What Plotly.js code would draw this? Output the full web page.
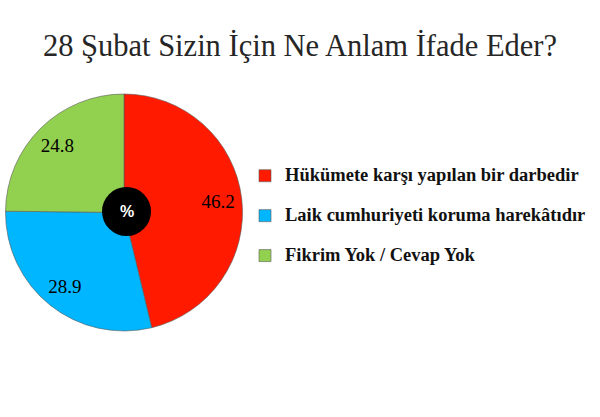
<!DOCTYPE html>
<html>
<head>
<meta charset="utf-8">
<script src="https://cdn.plot.ly/plotly-3.0.1.min.js"></script>
<style>
  html, body { margin: 0; padding: 0; background: #fff; }
  #chart { width: 600px; height: 417px; }
</style>
</head>
<body>
<div id="chart"></div>
<script>
// ─── data ───────────────────────────────────────────────
var answers = [
  'Hükümete karşı yapılan bir darbedir',
  'Laik cumhuriyeti koruma harekâtıdır',
  'Fikrim Yok / Cevap Yok'
];
var shares = [46.2, 28.9, 24.8];
var sliceColors = ['#ff1a00', '#00b7ff', '#92d050'];

// legend rows are spaced wide apart: layout uses the small legend font on two lines,
// while the visible text is drawn bigger through a span
var legendLabels = answers.map(function (a) {
  return '<span style="font-size:18.5px">' + a + '</span><br> ';
});
var pieDomain = { x: [4 / 600, 244 / 600], y: [1 - 331 / 417, 1 - 94 / 417] };

// the coloured pie itself
var pie = {
  type: 'pie',
  labels: legendLabels,
  values: shares,
  sort: false,
  direction: 'clockwise',
  rotation: 0,
  textinfo: 'none',
  marker: { colors: sliceColors, line: { color: 'rgba(90,90,90,0.6)', width: 1 } },
  domain: pieDomain,
  hoverinfo: 'label+value'
};

// same slices, transparent ring, only to push the value labels outwards
var valueLabels = {
  type: 'pie',
  labels: answers,
  values: shares,
  sort: false,
  direction: 'clockwise',
  rotation: 0,
  hole: 0.6,
  showlegend: false,
  textinfo: 'value',
  texttemplate: '%{value:.1f}',
  textposition: 'inside',
  insidetextorientation: 'horizontal',
  textfont: { family: 'Liberation Serif, serif', size: 19, color: '#000' },
  marker: { colors: ['rgba(0,0,0,0)', 'rgba(0,0,0,0)', 'rgba(0,0,0,0)'], line: { width: 0 } },
  domain: pieDomain,
  hoverinfo: 'skip'
};

var layout = {
  width: 600,
  height: 417,
  margin: { l: 0, r: 0, t: 0, b: 0 },
  paper_bgcolor: '#fff',
  title: {
    text: '28 Şubat Sizin İçin Ne Anlam İfade Eder?',
    font: { family: 'Liberation Serif, serif', size: 30.5, color: '#262626' },
    x: 0.5, xanchor: 'center', y: 1 - 45 / 417, yanchor: 'middle'
  },
  showlegend: true,
  legend: {
    x: 245 / 600, xanchor: 'left',
    y: 1 - 160 / 417, yanchor: 'top',
    valign: 'top',
    font: { family: 'Liberation Serif, serif', size: 14.2, color: '#111', weight: 'bold' },
    itemclick: false
  },
  shapes: [{
    type: 'circle', xref: 'paper', yref: 'paper', layer: 'above',
    x0: 102 / 600, x1: 151 / 600, y0: 1 - 236 / 417, y1: 1 - 187 / 417,
    fillcolor: '#000', line: { color: '#000', width: 0 }
  }],
  annotations: [{
    text: '%', xref: 'paper', yref: 'paper', showarrow: false,
    x: 126.5 / 600, y: 1 - 211.5 / 417, xanchor: 'center', yanchor: 'middle',
    font: { family: 'Liberation Sans, sans-serif', size: 16, color: '#fff', weight: 'bold' }
  }]
};

Plotly.newPlot('chart', [pie, valueLabels], layout, { displayModeBar: false, staticPlot: true });
</script>
</body>
</html>
